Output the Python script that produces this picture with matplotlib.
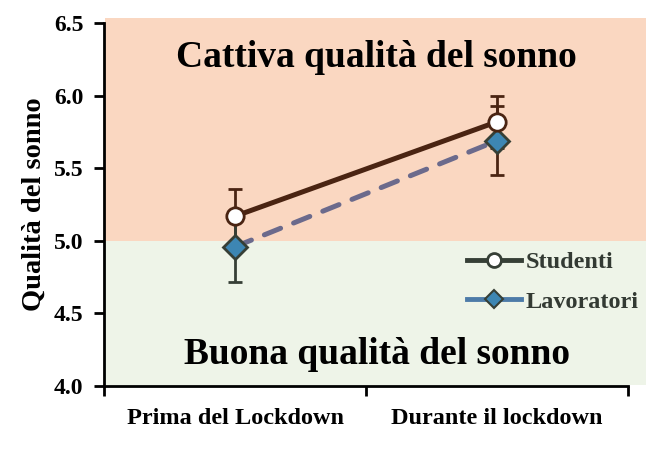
import matplotlib.pyplot as plt
from matplotlib.patches import Rectangle
from matplotlib.lines import Line2D
import matplotlib.transforms as mtransforms

plt.rcParams['font.family'] = ['Liberation Serif', 'DejaVu Serif']
plt.rcParams['font.weight'] = 'bold'

# dati
periodi = ['Prima del Lockdown', 'Durante il lockdown']
studenti = [5.17, 5.82]
studenti_err = [0.19, 0.18]
lavoratori = [4.96, 5.69]
lavoratori_err = [0.24, 0.24]
y_ticks = [4.0, 4.5, 5.0, 5.5, 6.0, 6.5]
soglia = 5.0

marrone = '#4a2412'
grigio = '#363f36'
blu = '#3d86b3'

fig = plt.figure(figsize=(6.51, 4.5), dpi=100)
ax = fig.add_axes([0.16, 0.142, 0.805, 0.807])

x = [0, 1]

# fasce colorate (cattiva / buona qualita)
tr = mtransforms.blended_transform_factory(ax.transAxes, ax.transData)
ax.add_patch(Rectangle((0.002, soglia), 1.032, 1.535, transform=tr,
                       facecolor='#fad7c1', edgecolor='none', zorder=0, clip_on=False))
ax.add_patch(Rectangle((0.002, 4.007), 1.032, soglia - 4.007, transform=tr,
                       facecolor='#eef4e8', edgecolor='none', zorder=0, clip_on=False))

# barre di errore
ax.errorbar(x, studenti, yerr=studenti_err, fmt='none', ecolor=marrone,
            elinewidth=2, capsize=5, capthick=2, zorder=3)
ax.errorbar(x[0], lavoratori[0], yerr=lavoratori_err[0], fmt='none', ecolor=grigio,
            elinewidth=2, capsize=5, capthick=2, zorder=3)
ax.errorbar(x[1], lavoratori[1], yerr=lavoratori_err[1], fmt='none', ecolor=marrone,
            elinewidth=2, capsize=5, capthick=2, zorder=3)

# linee
ax.plot(x, lavoratori, color='#6b6a8c', lw=3.6, ls=(0, (3.5, 2.8)),
        dash_capstyle='round', zorder=4)
ax.plot(x, lavoratori, ls='none', marker='D', ms=12.5, mfc=blu, mec=grigio,
        mew=2, zorder=5)
ax.plot(x, studenti, color=marrone, lw=3.6, marker='o', ms=12.5, mfc='white',
        mec=marrone, mew=2, zorder=6)

ax.set_xlim(-0.5, 1.5)
ax.set_ylim(4.0, 6.5)
ax.set_yticks(y_ticks)
ax.set_yticklabels([f'{v:.1f}' for v in y_ticks], fontsize=17, fontweight='bold')
ax.set_xticks(x)
ax.set_xticklabels(periodi, fontsize=17.5, fontweight='bold')
ax.set_xticks([-0.5, 0.5, 1.5], minor=True)
ax.tick_params(axis='x', which='major', length=0, pad=16)
ax.tick_params(axis='x', which='minor', length=7, width=2, direction='out')
ax.tick_params(axis='y', length=7, width=2, direction='out', pad=8)

for s in ['top', 'right']:
    ax.spines[s].set_visible(False)
for s in ['left', 'bottom']:
    ax.spines[s].set_linewidth(2)
    ax.spines[s].set_zorder(7)

ax.set_ylabel('Qualità del sonno', fontsize=20.5, fontweight='bold', labelpad=5)
ax.set_facecolor('none')

ax.text(0.52, 0.905, 'Cattiva qualità del sonno', transform=ax.transAxes,
        ha='center', va='center', fontsize=27, fontweight='bold', color='black')
ax.text(0.52, 0.088, 'Buona qualità del sonno', transform=ax.transAxes,
        ha='center', va='center', fontsize=27, fontweight='bold', color='black')

handles = [
    Line2D([], [], color=grigio, lw=3.5, marker='o', ms=10, mfc='white', mec=grigio, mew=2),
    Line2D([], [], color='#4d7ba8', lw=3.5, marker='D', ms=9, mfc=blu, mec=grigio, mew=1.5),
]
leg = ax.legend(handles, ['Studenti', 'Lavoratori'], loc='center left',
                bbox_to_anchor=(0.693, 0.287), frameon=False, handlelength=2.2,
                handletextpad=0.2, labelspacing=0.72, borderpad=0, borderaxespad=0,
                prop={'size': 17.5, 'weight': 'bold'})
for t in leg.get_texts():
    t.set_color('#333a33')

fig.savefig('out.png', dpi=100)
